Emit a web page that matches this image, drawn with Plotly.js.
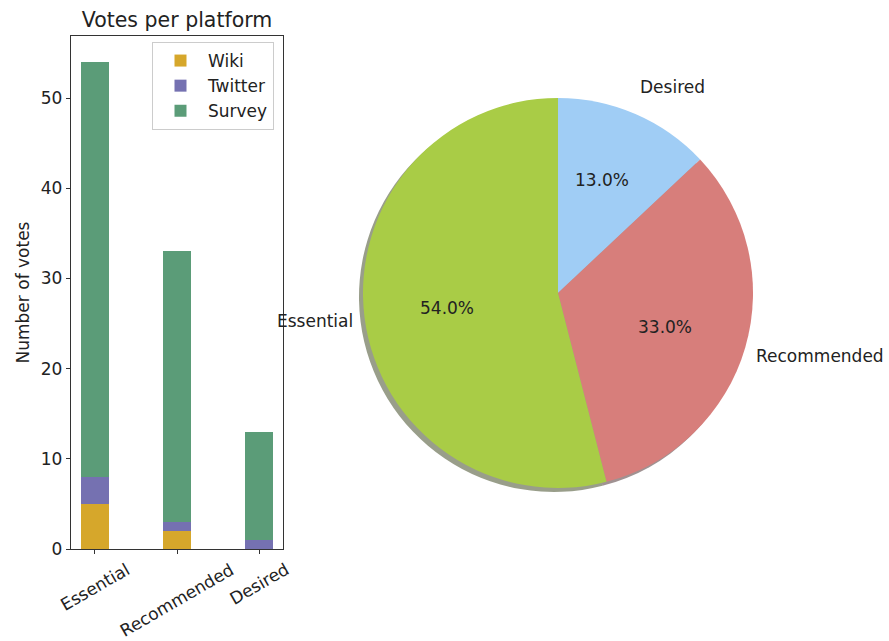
<!DOCTYPE html>
<html><head><meta charset="utf-8">
<script src="https://cdn.plot.ly/plotly-3.0.1.min.js"></script>
<style>html,body{margin:0;padding:0;background:#fff}#chart{width:889px;height:641px}</style>
</head><body><div id="chart"></div>
<script>
const categories = ['Essential', 'Recommended', 'Desired'];
const wikiVotes = [5, 2, 0];
const twitterVotes = [3, 1, 1];
const surveyVotes = [46, 30, 12];
const yTicks = [0, 10, 20, 30, 40, 50];
const pieLabels = ['Essential', 'Recommended', 'Desired'];
const pieValues = [54, 33, 13];
const pieColors = ['#a9cc46', '#d77e7b', '#a0cdf5'];

const W = 889, H = 641;
const FONT = 'DejaVu Sans, sans-serif';
const FS = 17;
const TXT = '#222';
const px = x => x / W;
const py = y => 1 - y / H;

// pie geometry (pixels)
const cx = 558, cy = 293, R = 195, rx = 186.5, ry = 204.5, sh = 4;

// Plotly draws clockwise from 12 o'clock; reverse so the first slice goes counterclockwise from the top
const pieValuesCW = pieValues.slice().reverse();
const pieLabelsCW = pieLabels.slice().reverse();
const pieColorsCW = pieColors.slice().reverse();
const shadowColorsCW = pieColorsCW.map(c => {
  const r = parseInt(c.slice(1, 3), 16) * 0.3, g = parseInt(c.slice(3, 5), 16) * 0.3, b = parseInt(c.slice(5, 7), 16) * 0.3;
  return 'rgba(' + r + ',' + g + ',' + b + ',0.5)';
});

const traces = [
  {type: 'bar', name: 'Wiki', x: categories, y: wikiVotes, width: 0.35,
   marker: {color: '#d6a72b', line: {width: 0}}, xaxis: 'x', yaxis: 'y', hoverinfo: 'skip'},
  {type: 'bar', name: 'Twitter', x: categories, y: twitterVotes, width: 0.35,
   marker: {color: '#7571b1', line: {width: 0}}, xaxis: 'x', yaxis: 'y', hoverinfo: 'skip'},
  {type: 'bar', name: 'Survey', x: categories, y: surveyVotes, width: 0.35,
   marker: {color: '#5b9c78', line: {width: 0}}, xaxis: 'x', yaxis: 'y', hoverinfo: 'skip'},
  // shadow
  {type: 'pie', values: pieValuesCW, labels: pieLabelsCW, sort: false, direction: 'clockwise',
   rotation: 0, textinfo: 'none', hoverinfo: 'skip', showlegend: false,
   marker: {colors: shadowColorsCW, line: {width: 0}},
   domain: {x: [px(cx - R - sh), px(cx + R - sh)], y: [py(cy + R + sh), py(cy - R + sh)]}},
  {type: 'pie', values: pieValuesCW, labels: pieLabelsCW, sort: false, direction: 'clockwise',
   rotation: 0, textinfo: 'none', hoverinfo: 'skip', showlegend: false,
   marker: {colors: pieColorsCW, line: {width: 0}},
   domain: {x: [px(cx - R), px(cx + R)], y: [py(cy + R), py(cy - R)]}}
];

const annotations = [];
// rotated category labels
const tickLabelY = 558;
categories.forEach(c => {
  annotations.push({xref: 'x', yref: 'paper', x: c, y: py(tickLabelY), text: c, showarrow: false,
    textangle: -30, xanchor: 'center', yanchor: 'top', borderpad: 0,
    font: {family: FONT, size: FS, color: TXT}});
});
// pie labels and percentages (counterclockwise from 90 degrees)
const total = pieValues.reduce((a, b) => a + b, 0);
let start = 90;
pieValues.forEach((v, i) => {
  const frac = v / total;
  const mid = (start + frac * 180) * Math.PI / 180;
  start += frac * 360;
  const c = Math.cos(mid), s = Math.sin(mid);
  annotations.push({xref: 'paper', yref: 'paper', x: px(cx + 1.1 * rx * c), y: py(cy - 1.1 * ry * s),
    text: pieLabels[i], showarrow: false, xanchor: c >= 0 ? 'left' : 'right', yanchor: 'middle', borderpad: 0,
    font: {family: FONT, size: FS, color: TXT}});
  annotations.push({xref: 'paper', yref: 'paper', x: px(cx + 0.6 * rx * c), y: py(cy - 0.6 * ry * s),
    text: (100 * frac).toFixed(1) + '%', showarrow: false, xanchor: 'center', yanchor: 'middle', borderpad: 0,
    font: {family: FONT, size: FS, color: TXT}});
});

const layout = {
  width: W, height: H,
  margin: {l: 0, r: 0, t: 0, b: 0},
  paper_bgcolor: '#fff', plot_bgcolor: '#fff',
  font: {family: FONT, size: FS, color: TXT},
  barmode: 'stack', bargap: 0,
  title: {text: 'Votes per platform', x: px(177), xanchor: 'center', xref: 'paper',
          y: py(20), yanchor: 'middle', yref: 'paper', font: {family: FONT, size: 20.5, color: TXT}},
  xaxis: {domain: [px(71), px(283)], range: [-0.2925, 2.2925], type: 'category',
          showline: true, mirror: true, linecolor: '#333', linewidth: 1.3,
          ticks: 'outside', ticklen: 4, tickcolor: '#333', showticklabels: false,
          showgrid: false, zeroline: false, fixedrange: true},
  yaxis: {domain: [py(549), py(36)], range: [0, 56.9], tickvals: yTicks,
          showline: true, mirror: true, linecolor: '#333', linewidth: 1.3,
          ticks: 'outside', ticklen: 4, tickcolor: '#333',
          tickfont: {family: FONT, size: FS, color: TXT},
          showgrid: false, zeroline: false, fixedrange: true,
          title: {text: 'Number of votes', font: {family: FONT, size: FS, color: TXT}, standoff: 6}},
  legend: {x: px(152), y: py(42), xanchor: 'left', yanchor: 'top', traceorder: 'normal',
           bgcolor: '#fff', bordercolor: '#ccc', borderwidth: 1, itemwidth: 45,
           font: {family: FONT, size: FS, color: TXT}},
  annotations: annotations,
  showlegend: true
};

Plotly.newPlot('chart', traces, layout, {displayModeBar: false, staticPlot: true});
</script></body></html>
